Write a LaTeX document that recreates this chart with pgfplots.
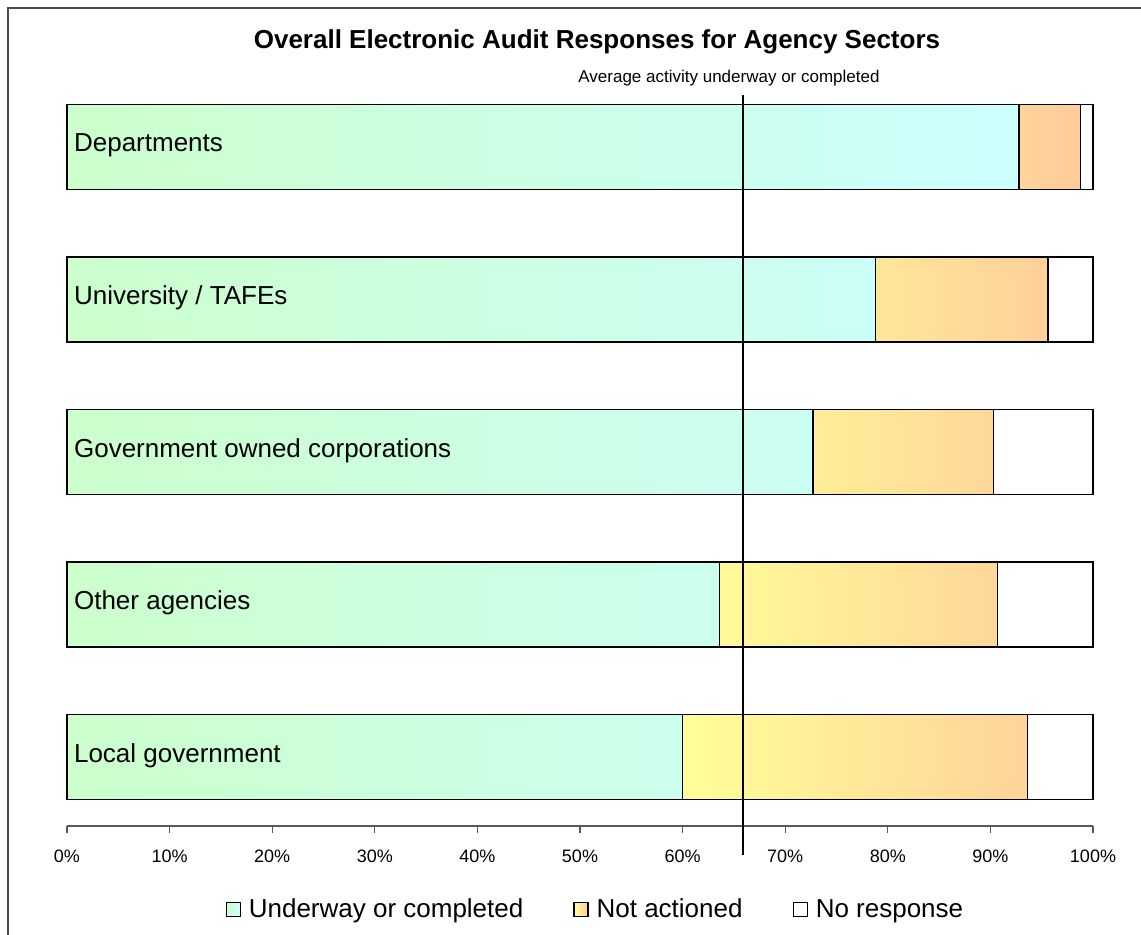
\documentclass[border=0pt]{standalone}
\usepackage{fontspec}
\setmainfont{Liberation Sans}
\usepackage{pgfplots}
\pgfplotsset{compat=1.18}
\definecolor{cgreen}{HTML}{CCFFCC}
\definecolor{ccyan}{HTML}{CCFFFF}
\definecolor{cyel}{HTML}{FFFF99}
\definecolor{corange}{HTML}{FFCC99}
\begin{document}
\begin{tikzpicture}
\useasboundingbox (-33.5pt,-54.5pt) rectangle (537pt,413pt);
\draw[gray!60!black, line width=0.6pt] (-29.5pt,-60pt) -- (-29.5pt,409pt) -- (540pt,409pt);
\begin{axis}[
  scale only axis, width=513pt, height=374pt,
  xmin=0, xmax=100, ymin=-0.452, ymax=4.452,
  xbar stacked, bar width=0.557,
  axis x line*=bottom, axis y line=none,
  x axis line style={-, gray!70!black, line width=0.7pt},
  xtick={0,10,...,100}, ytick=\empty,
  tick align=outside, major tick length=3.5pt,
  x tick style={gray!70!black, line width=0.6pt},
  xticklabel={\pgfmathprintnumber{\tick}\%},
  /pgf/number format/assume math mode=true,
  x tick label style={font=\fontsize{9}{10}\selectfont, yshift=-5pt},
  clip=false,
  legend style={at={(0.516,-0.112)}, anchor=center, draw=none, fill=none,
    legend columns=3, font=\fontsize{13}{15}\selectfont,
    /tikz/every odd column/.append style={column sep=2pt},
    /tikz/every even column/.append style={column sep=23pt}},
  legend image code/.code={\draw[#1, line width=0.6pt] (0pt,-3.5pt) rectangle (7pt,3.5pt);},
]
\addplot[draw=black, line width=0.8pt, left color=cgreen, right color=ccyan]
  coordinates {(60.0,0) (63.6,1) (72.7,2) (78.8,3) (92.8,4)};
\addplot[draw=black, line width=0.8pt, left color=cyel, right color=corange]
  coordinates {(33.6,0) (27.1,1) (17.6,2) (16.8,3) (6.0,4)};
\addplot[draw=black, line width=0.8pt, fill=white]
  coordinates {(6.4,0) (9.3,1) (9.7,2) (4.4,3) (1.2,4)};
\legend{Underway or completed, Not actioned, No response}
\coordinate (avgb) at (axis cs:65.9,-0.643);
\coordinate (avgt) at (axis cs:65.9,4.341);
\coordinate (c4) at (axis cs:0,4.01);
\coordinate (c3) at (axis cs:0,3.01);
\coordinate (c2) at (axis cs:0,2.01);
\coordinate (c1) at (axis cs:0,1.01);
\coordinate (c0) at (axis cs:0,0.01);
\end{axis}
\draw[black, line width=0.9pt] (avgb) -- (avgt);
\begin{scope}[every node/.style={anchor=west, font=\fontsize{13}{15}\selectfont}]
\node at (c4) {Departments};
\node at (c3) {University / TAFEs};
\node at (c2) {Government owned corporations};
\node at (c1) {Other agencies};
\node at (c0) {Local government};
\end{scope}
\node[font=\bfseries\fontsize{13}{15}\selectfont] at (265pt,392pt) {Overall Electronic Audit Responses for Agency Sectors};
\node[font=\fontsize{8.5}{10}\selectfont] at (331pt,374pt) {Average activity underway or completed};
\end{tikzpicture}
\end{document}
